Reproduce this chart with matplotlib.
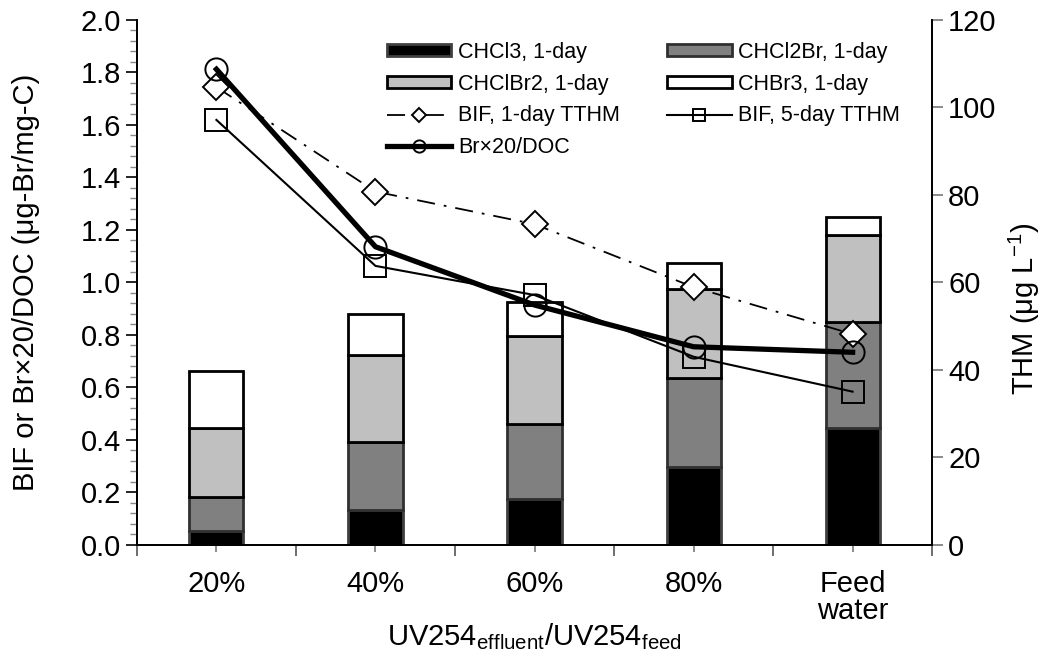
import matplotlib
matplotlib.use("Agg")
import matplotlib.pyplot as plt
import numpy as np
from matplotlib.ticker import MultipleLocator

plt.rcParams['font.family'] = ['Liberation Sans', 'DejaVu Sans']
plt.rcParams['mathtext.fontset'] = 'custom'
plt.rcParams['mathtext.rm'] = 'Liberation Sans'
plt.rcParams['mathtext.it'] = 'Liberation Sans'

categories = ["20%", "40%", "60%", "80%", "Feed\nwater"]

# THM species after 1 day (ug/L)
chcl3 = [3.3, 8.0, 10.6, 17.9, 26.7]
chcl2br = [7.7, 15.5, 17.0, 20.3, 24.3]
chclbr2 = [15.8, 20.0, 20.2, 20.4, 19.9]
chbr3 = [13.0, 9.2, 7.8, 5.8, 4.0]

# bromine incorporation factors and bromide/DOC ratio
bif_1day = [1.744, 1.346, 1.222, 0.982, 0.803]
bif_5day = [1.619, 1.063, 0.952, 0.717, 0.584]
br_doc = [1.812, 1.136, 0.914, 0.755, 0.734]

x = np.arange(len(categories))

fig, ax = plt.subplots(figsize=(10.45, 6.63), dpi=100)
fig.subplots_adjust(left=0.131, right=0.892, bottom=0.178, top=0.970)
ax2 = ax.twinx()

# bars sit on the THM axis, behind the lines
ax2.set_zorder(ax.get_zorder() - 1)
ax.patch.set_visible(False)

w = 0.34
bottom = np.zeros(len(x))
bar_specs = [
    (chcl3, "black", "#404040", "CHCl3, 1-day"),
    (chcl2br, "#808080", "#303030", "CHCl2Br, 1-day"),
    (chclbr2, "#c0c0c0", "black", "CHClBr2, 1-day"),
    (chbr3, "white", "black", "CHBr3, 1-day"),
]
bars = []
for vals, fc, ec, lab in bar_specs:
    b = ax2.bar(x, vals, w, bottom=bottom, color=fc, edgecolor=ec,
                linewidth=2, label=lab)
    bars.append(b)
    bottom = bottom + np.array(vals)

l1, = ax.plot(x, bif_1day, color="black", lw=1.3, ls=(0, (10, 5, 1.5, 5)),
              marker="D", ms=13, mfc="white", mec="black", mew=1.4,
              label="BIF, 1-day TTHM")
l2, = ax.plot(x, bif_5day, color="black", lw=1.5, ls="-",
              marker="s", ms=16, mfc="none", mec="black", mew=1.4,
              label="BIF, 5-day TTHM")
l3, = ax.plot(x, br_doc, color="black", lw=3.8, ls="-",
              marker="o", ms=16, mfc="none", mec="black", mew=1.4,
              label="Br\u00d720/DOC")

ax.set_xlim(-0.5, len(x) - 0.5)
ax.set_ylim(0, 2.0)
ax2.set_ylim(0, 120)

ax.yaxis.set_major_locator(MultipleLocator(0.2))
ax.yaxis.set_minor_locator(MultipleLocator(0.04))
ax.yaxis.set_major_formatter(matplotlib.ticker.FormatStrFormatter("%.1f"))
ax2.yaxis.set_major_locator(MultipleLocator(20))

ax.set_xticks(np.arange(-0.5, len(x), 1.0))
ax.set_xticklabels([])
ax.set_xticks(x, categories, minor=True)
for t in ax.get_xticklabels(minor=True):
    t.set_linespacing(0.95)

fs = 21
ax.tick_params(axis="x", which="major", direction="out", length=8, width=1.2,
               color="#555555")
ax.tick_params(axis="x", which="minor", direction="out", length=5, width=1.2,
               color="#777777", labelsize=fs, pad=13)
ax.tick_params(axis="y", which="major", direction="out", length=8, width=1.2,
               labelsize=fs)
ax.tick_params(axis="y", which="minor", direction="out", length=5, width=1,
               color="#888888")
ax2.tick_params(axis="y", which="major", direction="out", length=8, width=1.2,
                color="#777777", labelsize=fs)

for a in (ax, ax2):
    a.spines["top"].set_visible(False)
    for s in ("left", "right", "bottom"):
        a.spines[s].set_linewidth(1.3)

ax.set_ylabel("BIF or Br\u00d720/DOC (\u03bcg-Br/mg-C)", fontsize=fs)
ax.yaxis.set_label_coords(-0.122, 0.5)
ax2.set_ylabel("THM (\u03bcg L$^{-1}$)", fontsize=fs)
ax2.yaxis.set_label_coords(1.094, 0.45)
ax.set_xlabel("UV254$_{\\mathrm{effluent}}$/UV254$_{\\mathrm{feed}}$",
              fontsize=fs)
ax.xaxis.set_label_coords(0.5, -0.145)

handles = [bars[0], bars[2], l1, l3, bars[1], bars[3], l2]
labels = [h.get_label() for h in handles]
ax.legend(handles, labels, ncol=2, loc="upper left",
          bbox_to_anchor=(0.29, 0.995), frameon=False, fontsize=15.5,
          handlelength=3.0, handleheight=0.5, markerscale=0.55,
          columnspacing=2.2, labelspacing=0.5, handletextpad=0.3)

fig.savefig("out.png", dpi=100, facecolor="white")
